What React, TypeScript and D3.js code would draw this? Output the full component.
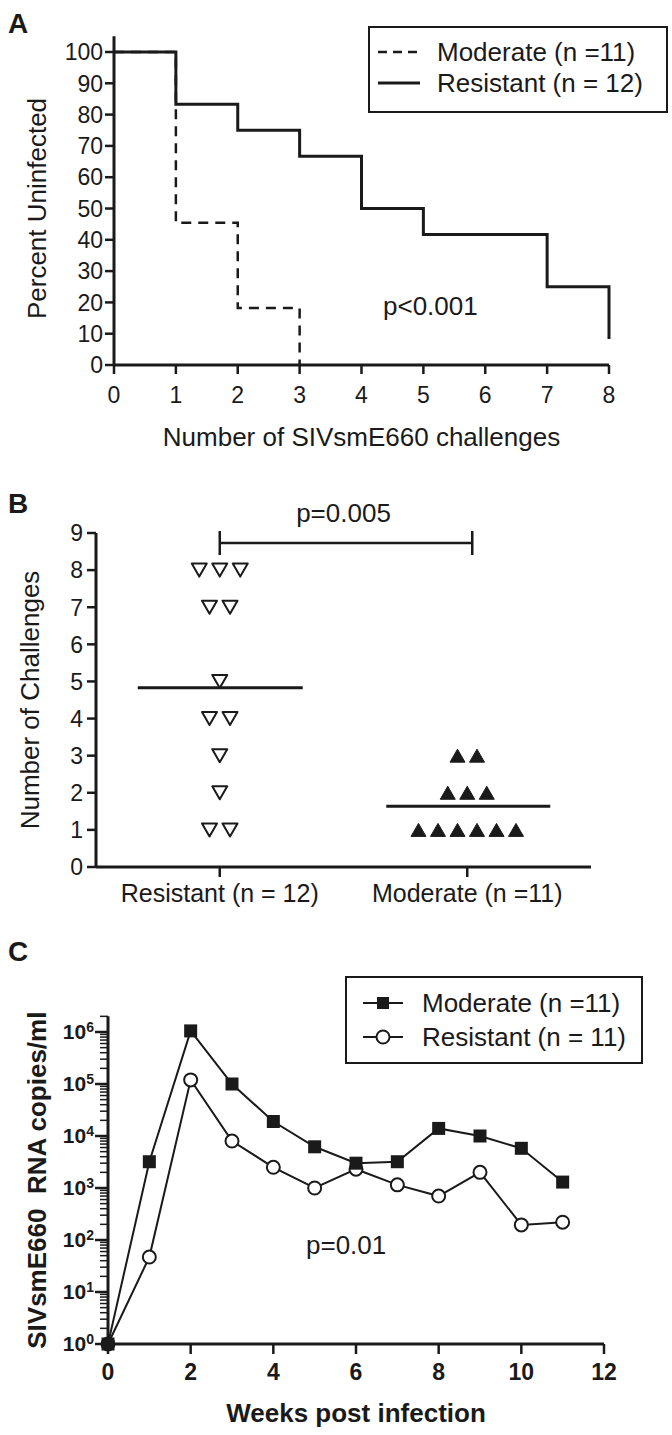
import React from 'react';
import * as d3 from 'd3';

// ---------- Panel A data (Kaplan-Meier) ----------
const kmXTicks = [0, 1, 2, 3, 4, 5, 6, 7, 8];
const kmYTicks = [0, 10, 20, 30, 40, 50, 60, 70, 80, 90, 100];
const moderateTimes = [0, 1, 2, 3];
const moderateSurv = [100, 45.45, 18.18, 0];
const resistantTimes = [0, 1, 2, 3, 4, 5, 7, 8];
const resistantSurv = [100, 83.33, 75, 66.67, 50, 41.67, 25, 8.33];
const legendA = ['Moderate (n =11)', 'Resistant (n = 12)'];

// ---------- Panel B data ----------
const groupsB = ['Resistant (n = 12)', 'Moderate (n =11)'];
const resistantChallenges = [8, 8, 8, 7, 7, 5, 4, 4, 3, 2, 1, 1];
const moderateChallenges = [3, 3, 2, 2, 2, 1, 1, 1, 1, 1, 1];
const bYTicks = [0, 1, 2, 3, 4, 5, 6, 7, 8, 9];

// ---------- Panel C data (viral load) ----------
const weeks = [0, 1, 2, 3, 4, 5, 6, 7, 8, 9, 10, 11];
const moderateVL = [1, 3200, 1.05e6, 1.0e5, 1.9e4, 6.2e3, 3.0e3, 3.2e3, 1.4e4, 1.0e4, 5.8e3, 1.3e3];
const resistantVL = [1, 47, 1.2e5, 8.0e3, 2.5e3, 1.0e3, 2.3e3, 1.15e3, 700, 2.0e3, 195, 220];
const cXTicks = [0, 2, 4, 6, 8, 10, 12];
const cYExps = [0, 1, 2, 3, 4, 5, 6];
const legendC = ['Moderate (n =11)', 'Resistant (n = 11)'];

const FONT = "'Liberation Sans', Arial, Helvetica, sans-serif";

function jitter(vals: number[], spacing: number) {
  const counts = d3.rollup(vals, (v) => v.length, (d) => d);
  const seen = new Map<number, number>();
  return vals.map((v) => {
    const n = counts.get(v) || 1;
    const i = seen.get(v) || 0;
    seen.set(v, i + 1);
    return { v, off: (i - (n - 1) / 2) * spacing };
  });
}

export default function App() {
  // ----- Panel A scales -----
  const xA = d3.scaleLinear().domain([0, 8]).range([114, 609]);
  const yA = d3.scaleLinear().domain([0, 100]).range([365, 52]);
  const stepLine = d3
    .line<[number, number]>()
    .x((d) => xA(d[0]))
    .y((d) => yA(d[1]))
    .curve(d3.curveStepAfter);
  const modPts = moderateTimes.map((t, i) => [t, moderateSurv[i]] as [number, number]);
  const resPts = resistantTimes.map((t, i) => [t, resistantSurv[i]] as [number, number]);

  // ----- Panel B scales -----
  const xB = d3.scalePoint<string>().domain(groupsB).range([96, 591]).padding(0.5);
  const yB = d3.scaleLinear().domain([0, 9]).range([867, 533]);
  const resJ = jitter(resistantChallenges, 20.5);
  const modJ = jitter(moderateChallenges, 19.5);
  const resMean = d3.mean(resistantChallenges) as number;
  const modMean = d3.mean(moderateChallenges) as number;
  const tw = 15;
  const th = 13;
  const downTri = (cx: number, cy: number) =>
    `M${cx - tw / 2},${cy - th / 2}L${cx + tw / 2},${cy - th / 2}L${cx},${cy + th / 2}Z`;
  const upTri = (cx: number, cy: number) =>
    `M${cx - tw / 2},${cy + th / 2}L${cx + tw / 2},${cy + th / 2}L${cx},${cy - th / 2}Z`;

  // ----- Panel C scales -----
  const xC = d3.scaleLinear().domain([0, 12]).range([108, 604]);
  const yC = d3.scaleLog().domain([1, 1e6]).range([1344, 1032]);
  const vlLine = d3
    .line<[number, number]>()
    .x((d) => xC(d[0]))
    .y((d) => yC(d[1]));
  const modC = weeks.map((w, i) => [w, moderateVL[i]] as [number, number]);
  const resC = weeks.map((w, i) => [w, resistantVL[i]] as [number, number]);
  const minorC: number[] = [];
  for (let e = 0; e < 6; e++) for (let k = 2; k <= 9; k++) minorC.push(k * Math.pow(10, e));
  minorC.push(2e6);
  const cTop = yC(2e6);

  const axisW = 3;

  return (
    <svg
      width={672}
      height={1435}
      style={{ position: 'absolute', left: 0, top: 0, background: '#fff' }}
      fontFamily={FONT}
      fill="#1a1a1a"
    >
      <rect x={0} y={0} width={672} height={1435} fill="#fff" />

      {/* ================= PANEL A ================= */}
      <text x={8} y={33} fontSize={28} fontWeight="bold">A</text>

      {/* y axis */}
      <line x1={xA(0)} x2={xA(0)} y1={yA(0)} y2={yA(105)} stroke="#1a1a1a" strokeWidth={axisW} />
      {kmYTicks.map((t) => (
        <g key={'ay' + t}>
          <line x1={xA(0) - 9} x2={xA(0)} y1={yA(t)} y2={yA(t)} stroke="#1a1a1a" strokeWidth={2.5} />
          <text x={xA(0) - 11} y={yA(t)} dy="0.36em" textAnchor="end" fontSize={23}>{t}</text>
        </g>
      ))}
      {/* x axis */}
      <line x1={xA(0)} x2={xA(8)} y1={yA(0)} y2={yA(0)} stroke="#1a1a1a" strokeWidth={axisW} />
      {kmXTicks.map((t) => (
        <g key={'ax' + t}>
          <line x1={xA(t)} x2={xA(t)} y1={yA(0)} y2={yA(0) + 9} stroke="#1a1a1a" strokeWidth={2.5} />
          <text x={xA(t)} y={403} textAnchor="middle" fontSize={23}>{t}</text>
        </g>
      ))}
      <text x={(xA(0) + xA(8)) / 2} y={446} textAnchor="middle" fontSize={26}>
        Number of SIVsmE660 challenges
      </text>
      <text transform={`translate(46,${(yA(0) + yA(100)) / 2}) rotate(-90)`} textAnchor="middle" fontSize={26}>
        Percent Uninfected
      </text>

      {/* curves */}
      <path d={stepLine(modPts) || ''} fill="none" stroke="#1a1a1a" strokeWidth={2.5} strokeDasharray="10,7" />
      <path d={stepLine(resPts) || ''} fill="none" stroke="#1a1a1a" strokeWidth={3} />

      <text x={383} y={315} fontSize={26}>p&lt;0.001</text>

      {/* legend A */}
      <rect x={369} y={27} width={298} height={85} fill="none" stroke="#1a1a1a" strokeWidth={2} />
      <line x1={378} x2={420} y1={52} y2={52} stroke="#1a1a1a" strokeWidth={2.5} strokeDasharray="9,6" />
      <text x={437} y={61} fontSize={26}>{legendA[0]}</text>
      <line x1={378} x2={420} y1={83} y2={83} stroke="#1a1a1a" strokeWidth={3} />
      <text x={437} y={92} fontSize={26}>{legendA[1]}</text>

      {/* ================= PANEL B ================= */}
      <text x={8} y={513} fontSize={28} fontWeight="bold">B</text>
      <text x={(xB(groupsB[0])! + xB(groupsB[1])!) / 2} y={522} textAnchor="middle" fontSize={26}>p=0.005</text>
      <line x1={xB(groupsB[0])} x2={xB(groupsB[1])! + 5} y1={543} y2={543} stroke="#1a1a1a" strokeWidth={2.5} />
      <line x1={xB(groupsB[0])} x2={xB(groupsB[0])} y1={531} y2={555} stroke="#1a1a1a" strokeWidth={2.5} />
      <line x1={xB(groupsB[1])! + 5} x2={xB(groupsB[1])! + 5} y1={531} y2={555} stroke="#1a1a1a" strokeWidth={2.5} />

      {/* axes */}
      <line x1={96} x2={96} y1={yB(0)} y2={yB(9)} stroke="#1a1a1a" strokeWidth={axisW} />
      {bYTicks.map((t) => (
        <g key={'by' + t}>
          <line x1={87} x2={96} y1={yB(t)} y2={yB(t)} stroke="#1a1a1a" strokeWidth={2.5} />
          <text x={83} y={yB(t)} dy="0.36em" textAnchor="end" fontSize={23}>{t}</text>
        </g>
      ))}
      <line x1={96} x2={591} y1={yB(0)} y2={yB(0)} stroke="#1a1a1a" strokeWidth={axisW} />
      {groupsB.map((g) => (
        <g key={'bx' + g}>
          <line x1={xB(g)} x2={xB(g)} y1={yB(0)} y2={yB(0) + 10} stroke="#1a1a1a" strokeWidth={2.5} />
          <text x={xB(g)} y={902} textAnchor="middle" fontSize={25}>{g}</text>
        </g>
      ))}
      <text transform={`translate(39,${(yB(0) + yB(9)) / 2}) rotate(-90)`} textAnchor="middle" fontSize={26}>
        Number of Challenges
      </text>

      {/* points */}
      {resJ.map((p, i) => (
        <path key={'rt' + i} d={downTri(xB(groupsB[0])! + p.off, yB(p.v))} fill="#fff" stroke="#1a1a1a" strokeWidth={2} strokeLinejoin="round" />
      ))}
      {modJ.map((p, i) => (
        <path key={'mt' + i} d={upTri(xB(groupsB[1])! + p.off, yB(p.v))} fill="#1a1a1a" stroke="#1a1a1a" strokeWidth={1} />
      ))}
      <line x1={xB(groupsB[0])! - 82} x2={xB(groupsB[0])! + 83} y1={yB(resMean)} y2={yB(resMean)} stroke="#1a1a1a" strokeWidth={3} />
      <line x1={xB(groupsB[1])! - 81} x2={xB(groupsB[1])! + 83} y1={yB(modMean)} y2={yB(modMean)} stroke="#1a1a1a" strokeWidth={3} />

      {/* ================= PANEL C ================= */}
      <text x={8} y={961} fontSize={28} fontWeight="bold">C</text>

      {/* legend C */}
      <rect x={346} y={977} width={296} height={86} fill="none" stroke="#1a1a1a" strokeWidth={2} />
      <line x1={363} x2={403} y1={1003} y2={1003} stroke="#1a1a1a" strokeWidth={2} />
      <rect x={377} y={997} width={12} height={12} fill="#1a1a1a" />
      <text x={422} y={1012} fontSize={26}>{legendC[0]}</text>
      <line x1={363} x2={403} y1={1037} y2={1037} stroke="#1a1a1a" strokeWidth={2} />
      <circle cx={383} cy={1037} r={6.5} fill="#fff" stroke="#1a1a1a" strokeWidth={2} />
      <text x={422} y={1046} fontSize={26}>{legendC[1]}</text>

      {/* y axis */}
      <line x1={108} x2={108} y1={yC(1)} y2={cTop} stroke="#1a1a1a" strokeWidth={axisW} />
      {minorC.map((v, i) => (
        <line key={'cm' + i} x1={100} x2={108} y1={yC(v)} y2={yC(v)} stroke="#1a1a1a" strokeWidth={1.5} />
      ))}
      {cYExps.map((e) => (
        <g key={'cy' + e}>
          <line x1={95} x2={108} y1={yC(Math.pow(10, e))} y2={yC(Math.pow(10, e))} stroke="#1a1a1a" strokeWidth={2.5} />
          <text x={94} y={yC(Math.pow(10, e)) + 7} textAnchor="end" fontSize={21} fontWeight="bold">
            10<tspan dy={-7} fontSize={14}>{e}</tspan>
          </text>
        </g>
      ))}
      {/* x axis */}
      <line x1={108} x2={xC(12)} y1={yC(1)} y2={yC(1)} stroke="#1a1a1a" strokeWidth={axisW} />
      {cXTicks.map((t) => (
        <g key={'cx' + t}>
          <line x1={xC(t)} x2={xC(t)} y1={yC(1)} y2={yC(1) + 10} stroke="#1a1a1a" strokeWidth={2.5} />
          <text x={xC(t)} y={1380} textAnchor="middle" fontSize={23} fontWeight="bold">{t}</text>
        </g>
      ))}
      <text x={(xC(0) + xC(12)) / 2} y={1422} textAnchor="middle" fontSize={26} fontWeight="bold">
        Weeks post infection
      </text>
      <text
        transform={`translate(46,${(yC(1) + cTop) / 2}) rotate(-90)`}
        textAnchor="middle"
        fontSize={26}
        fontWeight="bold"
        style={{ whiteSpace: 'pre' }}
      >
        {'SIVsmE660  RNA copies/ml'}
      </text>

      {/* series */}
      <path d={vlLine(modC) || ''} fill="none" stroke="#1a1a1a" strokeWidth={2} />
      <path d={vlLine(resC) || ''} fill="none" stroke="#1a1a1a" strokeWidth={2} />
      {resC.map((d, i) => (
        <circle key={'rc' + i} cx={xC(d[0])} cy={yC(d[1])} r={6.5} fill="#fff" stroke="#1a1a1a" strokeWidth={2} />
      ))}
      {modC.map((d, i) => (
        <rect key={'mc' + i} x={xC(d[0]) - 6.5} y={yC(d[1]) - 6.5} width={13} height={13} fill="#1a1a1a" />
      ))}
      <circle cx={xC(0)} cy={yC(1)} r={6.5} fill="#1a1a1a" />

      <text x={306} y={1254} fontSize={26}>p=0.01</text>
    </svg>
  );
}
